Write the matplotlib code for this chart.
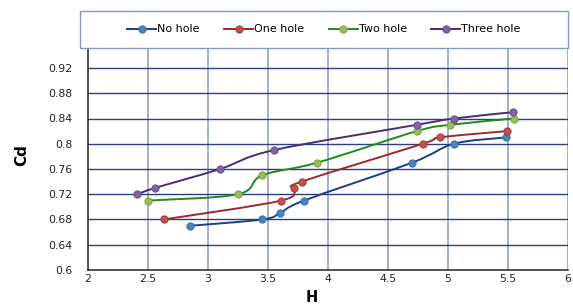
import matplotlib
matplotlib.use("Agg")
import matplotlib.pyplot as plt
from matplotlib.path import Path
from matplotlib.patches import PathPatch, Rectangle
from matplotlib.lines import Line2D
import numpy as np

series_names = ["No hole", "One hole", "Two hole", "Three hole"]
no_hole_x = [2.85, 3.45, 3.60, 3.80, 4.70, 5.05, 5.48]
no_hole_y = [0.67, 0.68, 0.69, 0.71, 0.77, 0.80, 0.81]
one_hole_x = [2.63, 3.61, 3.72, 3.78, 4.79, 4.93, 5.49]
one_hole_y = [0.68, 0.71, 0.73, 0.74, 0.80, 0.81, 0.82]
two_hole_x = [2.50, 3.25, 3.45, 3.91, 4.74, 5.02, 5.55]
two_hole_y = [0.71, 0.72, 0.75, 0.77, 0.82, 0.83, 0.84]
three_hole_x = [2.41, 2.56, 3.10, 3.55, 4.74, 5.05, 5.54]
three_hole_y = [0.72, 0.73, 0.76, 0.79, 0.83, 0.84, 0.85]

x_ticks = [2, 2.5, 3, 3.5, 4, 4.5, 5, 5.5, 6]
x_tick_labels = ["2", "2.5", "3", "3.5", "4", "4.5", "5", "5.5", "6"]
y_ticks = [0.6, 0.64, 0.68, 0.72, 0.76, 0.8, 0.84, 0.88, 0.92]
y_tick_labels = ["0.6", "0.64", "0.68", "0.72", "0.76", "0.8", "0.84", "0.88", "0.92"]

line_colors = ["#1F3C88", "#A0282A", "#1E8A1E", "#4B2C6E"]
marker_colors = ["#4F81BD", "#C0504D", "#9BBB59", "#8064A2"]
marker_edges = ["#3A6AA5", "#9E3A38", "#7E9E44", "#654C88"]

W, H = 573, 305
fig = plt.figure(figsize=(W / 100, H / 100), dpi=100)
fig.patch.set_facecolor("white")

left, right, bottom = 88, 568, 270
top = 42.75
ax = fig.add_axes([left / W, (H - bottom) / H, (right - left) / W, (bottom - top) / H])
ax.set_xlim(2, 6)
ax.set_ylim(0.6, 0.96)
ax.set_xticks(x_ticks)
ax.set_xticklabels(x_tick_labels)
ax.set_yticks(y_ticks)
ax.set_yticklabels(y_tick_labels)
ax.tick_params(axis="both", length=0, labelsize=7.8, colors="#222222")
ax.tick_params(axis="y", pad=11)
ax.tick_params(axis="x", pad=3)

for xv in x_ticks[1:]:
    ax.axvline(xv, color="#8A9BB8", lw=1.1, zorder=1)
for yv in y_ticks[1:] + [0.96]:
    ax.axhline(yv, color="#2B3F7E", lw=1.0, zorder=1)
for s in ["top", "right"]:
    ax.spines[s].set_visible(False)
for s in ["left", "bottom"]:
    ax.spines[s].set_color("#222222")
    ax.spines[s].set_linewidth(1.1)


def smooth_path(xs, ys):
    pts = np.column_stack([xs, ys])
    n = len(pts)
    verts = [pts[0]]
    codes = [Path.MOVETO]
    for i in range(n - 1):
        p0 = pts[i - 1] if i > 0 else pts[i]
        p1 = pts[i]
        p2 = pts[i + 1]
        p3 = pts[i + 2] if i + 2 < n else pts[i + 1]
        c1 = p1 + (p2 - p0) / 6.0
        c2 = p2 - (p3 - p1) / 6.0
        verts += [c1, c2, p2]
        codes += [Path.CURVE4] * 3
    return Path(verts, codes)


all_x = [no_hole_x, one_hole_x, two_hole_x, three_hole_x]
all_y = [no_hole_y, one_hole_y, two_hole_y, three_hole_y]
handles = []
for i in range(4):
    patch = PathPatch(smooth_path(all_x[i], all_y[i]), facecolor="none",
                      edgecolor=line_colors[i], lw=1.4, zorder=3)
    ax.add_patch(patch)
    ax.plot(all_x[i], all_y[i], ls="none", marker="o", ms=5.2,
            mfc=marker_colors[i], mec=marker_edges[i], mew=0.7, zorder=4)
    handles.append(Line2D([], [], color=line_colors[i], lw=1.4, marker="o", ms=5.2,
                          mfc=marker_colors[i], mec=marker_edges[i], mew=0.7))

# legend box
rect = Rectangle((80 / W, (H - 48) / H), (568 - 80) / W, 37 / H, transform=fig.transFigure,
                 facecolor="white", edgecolor="#7F9CC0", lw=1.0, zorder=5)
fig.patches.append(rect)
leg = fig.legend(handles, series_names, loc="center", ncol=4,
                 bbox_to_anchor=(((80 + 568) / 2) / W, (H - 29.5) / H),
                 frameon=False, fontsize=8, handlelength=2.6, handletextpad=0.1,
                 columnspacing=2.2)
leg.set_zorder(6)

fig.text(22 / W, (H - 155) / H, "Cd", rotation=90, ha="center", va="center",
         fontsize=11, fontweight="bold")
fig.text(312 / W, (H - 297) / H, "H", ha="center", va="center",
         fontsize=10.5, fontweight="bold")

fig.savefig("out.png", dpi=100)
